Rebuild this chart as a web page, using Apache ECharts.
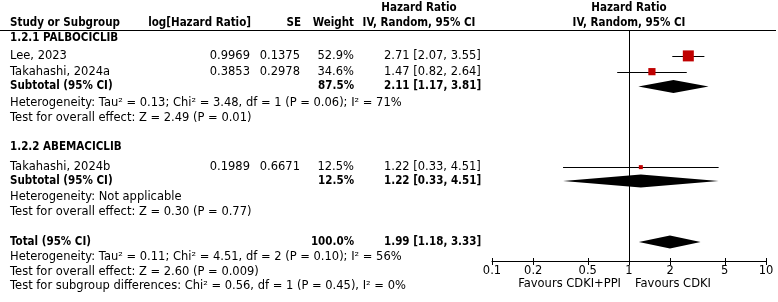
<!DOCTYPE html>
<html>
<head>
<meta charset="utf-8">
<script src="https://cdn.jsdelivr.net/npm/echarts@6/dist/echarts.min.js"></script>
<style>
html,body{margin:0;padding:0;background:#fff;}
#chart{width:778px;height:302px;}
</style>
</head>
<body>
<div id="chart"></div>
<script>
// ---------------- DATA ----------------
const groupNames = ['1.2.1 PALBOCICLIB', '1.2.2 ABEMACICLIB'];
const studyNames = ['Lee, 2023', 'Takahashi, 2024a', 'Takahashi, 2024b'];
const studyLogHR = ['0.9969', '0.3853', '0.1989'];
const studySE = ['0.1375', '0.2978', '0.6671'];
const studyWeight = [52.9, 34.6, 12.5];
const studyHR = [2.71, 1.47, 1.22];
const studyLow = [2.07, 0.82, 0.33];
const studyHigh = [3.55, 2.64, 4.51];

const pooledNames = ['Subtotal (95% CI)', 'Subtotal (95% CI)', 'Total (95% CI)'];
const pooledWeight = [87.5, 12.5, 100.0];
const pooledHR = [2.11, 1.22, 1.99];
const pooledLow = [1.17, 0.33, 1.18];
const pooledHigh = [3.81, 4.51, 3.33];

const statLines = [
  'Heterogeneity: Tau\u00b2 = 0.13; Chi\u00b2 = 3.48, df = 1 (P = 0.06); I\u00b2 = 71%',
  'Test for overall effect: Z = 2.49 (P = 0.01)',
  'Heterogeneity: Not applicable',
  'Test for overall effect: Z = 0.30 (P = 0.77)',
  'Heterogeneity: Tau\u00b2 = 0.11; Chi\u00b2 = 4.51, df = 2 (P = 0.10); I\u00b2 = 56%',
  'Test for overall effect: Z = 2.60 (P = 0.009)',
  'Test for subgroup differences: Chi\u00b2 = 0.56, df = 1 (P = 0.45), I\u00b2 = 0%'
];

const tickValues = [0.1, 0.2, 0.5, 1, 2, 5, 10];
const tickLabels = ['0.1', '0.2', '0.5', '1', '2', '5', '10'];
const favoursLeft = 'Favours CDKI+PPI';
const favoursRight = 'Favours CDKI';
const headerCols = ['Study or Subgroup', 'log[Hazard Ratio]', 'SE', 'Weight', 'Hazard Ratio', 'IV, Random, 95% CI'];

// ---------------- LAYOUT ----------------
const LINE_H = 15.45, LINE_TOP = 8;              // text line pitch
const slotY = s => LINE_TOP + s * LINE_H;
const studySlot = [3.1, 4.12, 10.3];
const pooledSlot = [5.08, 11.2, 15.15];
const groupSlot = [1.97, 9.0];
const statSlot = [6.15, 7.12, 12.23, 13.2, 16.12, 17.1, 18.0];
const PLOT_LEFT = 492, PLOT_W = 274, PLOT_TOP = 30, PLOT_BOTTOM = 261;
const COL = {study: 10, logHR: 251, se: 301, weight: 354, hrText: 384, hrHead: 419, plotHead: 629};
const FONT = '"DejaVu Sans", sans-serif';
const FONT_BOLD = '"DejaVu Sans Condensed", "DejaVu Sans", sans-serif';
const FS = 11.5, FS_BOLD = 11.5;

const fmt = v => v.toFixed(2);
const ciText = (h, l, u) => fmt(h) + ' [' + fmt(l) + ', ' + fmt(u) + ']';

function txt(text, x, y, align, bold) {
  return {type: 'text', x: x, y: y, silent: true,
    style: {text: text, fill: '#000', font: bold ? ('bold ' + FS_BOLD + 'px ' + FONT_BOLD) : (FS + 'px ' + FONT),
      align: align || 'left', verticalAlign: 'middle'}};
}

const graphics = [];
// headers
graphics.push(txt(headerCols[0], COL.study, slotY(1), 'left', true));
graphics.push(txt(headerCols[1], COL.logHR, slotY(1), 'right', true));
graphics.push(txt(headerCols[2], COL.se, slotY(1), 'right', true));
graphics.push(txt(headerCols[3], COL.weight, slotY(1), 'right', true));
graphics.push(txt(headerCols[4], COL.hrHead, slotY(0), 'center', true));
graphics.push(txt(headerCols[5], COL.hrHead, slotY(1), 'center', true));
graphics.push(txt(headerCols[4], COL.plotHead, slotY(0), 'center', true));
graphics.push(txt(headerCols[5], COL.plotHead, slotY(1), 'center', true));
graphics.push({type: 'line', silent: true, shape: {x1: 0, y1: PLOT_TOP + 0.5, x2: 776, y2: PLOT_TOP + 0.5},
  style: {stroke: '#000', lineWidth: 1}});
groupNames.forEach((g, i) => graphics.push(txt(g, COL.study, slotY(groupSlot[i]), 'left', true)));
studyNames.forEach((n, i) => {
  const y = slotY(studySlot[i]);
  graphics.push(txt(n, COL.study, y, 'left', false));
  graphics.push(txt(studyLogHR[i], COL.logHR - 1, y, 'right', false));
  graphics.push(txt(studySE[i], COL.se - 1, y, 'right', false));
  graphics.push(txt(studyWeight[i].toFixed(1) + '%', COL.weight, y, 'right', false));
  graphics.push(txt(ciText(studyHR[i], studyLow[i], studyHigh[i]), COL.hrText, y, 'left', false));
});
pooledNames.forEach((n, i) => {
  const y = slotY(pooledSlot[i]);
  graphics.push(txt(n, COL.study, y, 'left', true));
  graphics.push(txt(pooledWeight[i].toFixed(1) + '%', COL.weight, y, 'right', true));
  graphics.push(txt(ciText(pooledHR[i], pooledLow[i], pooledHigh[i]), COL.hrText, y, 'left', true));
});
statLines.forEach((s, i) => graphics.push(txt(s, COL.study, slotY(statSlot[i]), 'left', false)));
graphics.push(txt(favoursLeft, 621, 284, 'right', false));
graphics.push(txt(favoursRight, 635, 284, 'left', false));

const yMin = (PLOT_TOP - LINE_TOP) / LINE_H;
const yMax = (PLOT_BOTTOM - LINE_TOP) / LINE_H;

const studyData = studyHR.map((h, i) => [h, studySlot[i], studyLow[i], studyHigh[i], studyWeight[i]]);
const pooledData = pooledHR.map((h, i) => [h, pooledSlot[i], pooledLow[i], pooledHigh[i]]);

const chart = echarts.init(document.getElementById('chart'), null, {renderer: 'canvas'});
chart.setOption({
  animation: false,
  backgroundColor: '#fff',
  grid: {left: PLOT_LEFT, width: PLOT_W, top: PLOT_TOP, height: PLOT_BOTTOM - PLOT_TOP, containLabel: false},
  xAxis: [{
    type: 'log', logBase: 10, min: 0.1, max: 10, position: 'bottom',
    axisLine: {show: true, lineStyle: {color: '#000', width: 1}},
    axisTick: {show: true, customValues: tickValues, length: 4, lineStyle: {color: '#000', width: 1}},
    axisLabel: {show: true, customValues: tickValues, color: '#000', fontSize: FS, fontFamily: FONT, margin: 4,
      formatter: v => tickLabels[tickValues.findIndex(t => Math.abs(t - v) < 1e-6)] ?? ''},
    splitLine: {show: false}, minorTick: {show: false}
  }, {
    type: 'log', logBase: 10, min: 0.1, max: 10, position: 'bottom',
    axisLine: {show: false},
    axisTick: {show: true, inside: true, customValues: tickValues, length: 3, lineStyle: {color: '#000', width: 1}},
    axisLabel: {show: false}, splitLine: {show: false}
  }],
  yAxis: {type: 'value', inverse: true, min: yMin, max: yMax, show: false, splitLine: {show: false}},
  graphic: graphics,
  series: [{
    type: 'custom', xAxisIndex: 0, yAxisIndex: 0, data: studyData, clip: false,
    renderItem: (params, api) => {
      const c = api.coord([api.value(0), api.value(1)]);
      const l = api.coord([api.value(2), api.value(1)]);
      const r = api.coord([api.value(3), api.value(1)]);
      const size = Math.max(4, api.value(4) * 0.208);
      const y = Math.round(c[1]) + 0.5;
      return {type: 'group', children: [
        {type: 'line', shape: {x1: l[0], y1: y, x2: r[0], y2: y}, style: {stroke: '#000', lineWidth: 1}},
        {type: 'rect', shape: {x: c[0] - size / 2, y: c[1] - size / 2, width: size, height: size},
          style: {fill: '#c00000'}}
      ]};
    },
    markLine: {silent: true, symbol: ['none', 'none'], label: {show: false},
      lineStyle: {color: '#000', width: 1, type: 'solid'}, data: [{xAxis: 1}]}
  }, {
    type: 'custom', xAxisIndex: 0, yAxisIndex: 0, data: pooledData, clip: false,
    renderItem: (params, api) => {
      const c = api.coord([api.value(0), api.value(1)]);
      const l = api.coord([api.value(2), api.value(1)]);
      const r = api.coord([api.value(3), api.value(1)]);
      const h = 6.5;
      return {type: 'polygon', shape: {points: [[l[0], c[1]], [c[0], c[1] - h], [r[0], c[1]], [c[0], c[1] + h]]},
        style: {fill: '#000'}};
    }
  }]
});
</script>
</body>
</html>
